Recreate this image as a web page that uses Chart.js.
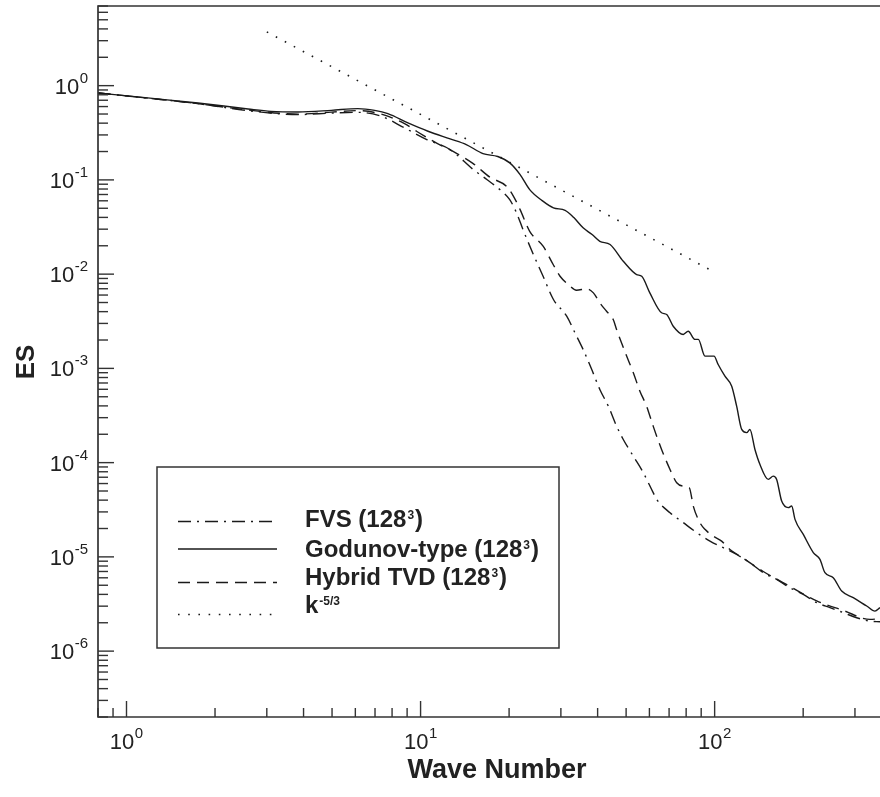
<!DOCTYPE html>
<html>
<head>
<meta charset="utf-8">
<script src="https://cdn.jsdelivr.net/npm/chart.js@4/dist/chart.umd.min.js"></script>
<style>
  html, body { margin:0; padding:0; background:#fff; }
  #wrap { position:relative; width:880px; height:797px; }
</style>
</head>
<body>
<div id="wrap"><canvas id="c"></canvas></div>
<script>
// ---- data (wave number k, spectrum ES) ----
const seriesNames = ["FVS (128", "Godunov-type (128", "Hybrid TVD (128", "k"];

const fvs = [[0.8,0.837],[1.18,0.737],[1.75,0.644],[2.59,0.543],[3.83,0.493],[4.97,0.511],[6.12,0.521],[7.35,0.473],[8.82,0.356],[10.5,0.268],[12.6,0.210],[15.1,0.129],[16.8,0.101],[18.6,0.0789],[20.1,0.0618],[21.2,0.0447],[22.3,0.0297],[24.2,0.0161],[26.1,0.0095],[28.3,0.00538],[31.4,0.00358],[33.5,0.00238],[35.7,0.00159],[38.2,0.000973],[40.7,0.000597],[43.5,0.000397],[46.4,0.000244],[48.9,0.000176],[52.9,0.000117],[57.2,7.82e-5],[61.8,4.80e-5],[63.5,4.07e-5],[70.5,2.94e-5],[78.2,2.31e-5],[86.9,1.81e-5],[96.4,1.47e-5],[107,1.25e-5],[118.8,1.06e-5],[131.8,8.69e-6],[146.3,6.8e-6],[162.5,5.77e-6],[180.4,4.71e-6],[200.2,4.0e-6],[222.3,3.27e-6],[246.7,2.89e-6],[273.8,2.56e-6],[304.1,2.26e-6],[337.5,2.08e-6],[365,2.05e-6]];

const godunov = [[0.8,0.837],[1.18,0.741],[1.75,0.655],[2.59,0.566],[3.10,0.534],[3.83,0.526],[4.97,0.547],[6.12,0.571],[6.98,0.547],[7.74,0.505],[9.06,0.402],[10.6,0.328],[12.6,0.272],[14.3,0.237],[16.3,0.190],[18.3,0.177],[20.1,0.1515],[21.8,0.1138],[23.5,0.0789],[25.9,0.0603],[28.3,0.0505],[31.0,0.0476],[33.2,0.0398],[35.7,0.0310],[38.3,0.0263],[40.7,0.0223],[44.1,0.0206],[48.9,0.0137],[54.3,0.0099],[56.5,0.0095],[60.2,0.00633],[66.0,0.00389],[68.7,0.00373],[72.3,0.0028],[78.2,0.00229],[81.3,0.00248],[85.7,0.00203],[88.0,0.00203],[92.7,0.00135],[99.5,0.00135],[102.8,0.0011],[108.4,0.000827],[114.3,0.000648],[118.8,0.000397],[123.6,0.000225],[128.5,0.000208],[131.8,0.000225],[137.1,0.000138],[142.6,9.57e-5],[152.2,6.64e-5],[158.2,7.19e-5],[162.5,6.64e-5],[169.0,3.91e-5],[178.0,3.33e-5],[182.8,3.46e-5],[187.6,2.50e-5],[200.2,1.73e-5],[216.5,1.11e-5],[228.1,9.39e-6],[237.2,6.79e-6],[253.1,6.01e-6],[270.4,4.34e-6],[296.0,3.69e-6],[328.9,3.01e-6],[350.9,2.66e-6],[365,2.89e-6]];

const hybrid = [[0.8,0.837],[1.18,0.737],[1.75,0.644],[2.59,0.551],[3.83,0.499],[4.97,0.524],[6.12,0.543],[7.35,0.499],[8.82,0.395],[9.69,0.328],[11.3,0.247],[12.9,0.201],[15.1,0.149],[17.2,0.107],[19.6,0.0855],[20.7,0.067],[21.8,0.0484],[23.5,0.0285],[26.1,0.0198],[28.3,0.0125],[29.8,0.0095],[31.8,0.00776],[33.9,0.00675],[36.7,0.00698],[38.7,0.00633],[40.7,0.00496],[42.9,0.00404],[45.2,0.0033],[46.4,0.00259],[50.2,0.00135],[52.9,0.000898],[55.7,0.000573],[58.7,0.000397],[61.8,0.000244],[66.0,0.000138],[70.5,8.47e-5],[74.3,6.12e-5],[78.2,5.64e-5],[82.0,5.42e-5],[84.6,3.46e-5],[89.1,2.31e-5],[92.7,1.96e-5],[98.9,1.66e-5],[105.6,1.47e-5],[112.7,1.2e-5],[121.9,1.02e-5],[146.3,7.0e-6],[180.4,4.86e-6],[222.3,3.41e-6],[273.8,2.7e-6],[337.5,2.17e-6],[365,2.22e-6]];

const kMinus53 = [[3,3.72],[96,0.0112]];

const xRange = [0.8, 365];
const yRange = [2e-7, 7];
const xLabelExps = [0, 1, 2];
const yLabelExps = [0, -1, -2, -3, -4, -5, -6];

const INK = '#1a1a1a';
const FONT = '"Liberation Sans", Arial, Helvetica, sans-serif';
const DASHES = { fvs:[13,6,2,6], god:[], hyb:[12,7], ref:[1.6,8.6] };

const toPts = a => a.map(p => ({x:p[0], y:p[1]}));

function drawPow(ctx, exp, x, y, mode) {
  const base = '10', sup = String(exp);
  ctx.fillStyle = '#222';
  ctx.textBaseline = 'alphabetic';
  ctx.font = '22px ' + FONT;
  const wb = ctx.measureText(base).width;
  ctx.font = '15px ' + FONT;
  const ws = ctx.measureText(sup).width;
  let x0;
  if (mode === 'y') x0 = x - ws - wb - 0.5;
  else x0 = x - (wb + ws + 0.5) / 2;
  ctx.textAlign = 'left';
  ctx.font = '22px ' + FONT;
  ctx.fillText(base, x0, y + 8);
  ctx.font = '15px ' + FONT;
  ctx.fillText(sup, x0 + wb + 0.5, y - 3);
}

const framePlugin = {
  id: 'frame',
  afterDatasetsDraw(chart) {
    const ctx = chart.ctx, a = chart.chartArea;
    const xs = chart.scales.x, ys = chart.scales.y;
    ctx.save();
    // frame
    ctx.strokeStyle = '#333';
    ctx.lineWidth = 1.7;
    ctx.setLineDash([]);
    ctx.beginPath();
    ctx.moveTo(a.right + 2, a.top);
    ctx.lineTo(a.left, a.top);
    ctx.lineTo(a.left, a.bottom);
    ctx.lineTo(a.right + 2, a.bottom);
    ctx.stroke();
    // ticks
    ctx.lineWidth = 1.4;
    for (let e = -8; e <= 3; e++) {
      for (let m = 1; m <= 9; m++) {
        const v = m * Math.pow(10, e);
        if (v >= yRange[0] && v <= yRange[1]) {
          const py = ys.getPixelForValue(v);
          const len = m === 1 ? 16 : 10;
          ctx.beginPath(); ctx.moveTo(a.left, py); ctx.lineTo(a.left + len, py); ctx.stroke();
        }
        if (v >= xRange[0] && v <= xRange[1]) {
          const px = xs.getPixelForValue(v);
          const len = m === 1 ? 16 : 9;
          ctx.beginPath(); ctx.moveTo(px, a.bottom); ctx.lineTo(px, a.bottom - len); ctx.stroke();
        }
      }
    }
    // tick labels
    yLabelExps.forEach(e => drawPow(ctx, e, 88, ys.getPixelForValue(Math.pow(10, e)), 'y'));
    xLabelExps.forEach(e => drawPow(ctx, e, xs.getPixelForValue(Math.pow(10, e)), a.bottom + 24, 'x'));
    // axis titles
    ctx.fillStyle = '#222';
    ctx.font = 'bold 27px ' + FONT;
    ctx.textAlign = 'center';
    ctx.textBaseline = 'alphabetic';
    ctx.fillText('Wave Number', 497, 778);
    ctx.save();
    ctx.translate(34, 362);
    ctx.rotate(-Math.PI / 2);
    ctx.font = 'bold 26px ' + FONT;
    ctx.fillText('ES', 0, 0);
    ctx.restore();
    // legend box
    ctx.fillStyle = '#fff';
    ctx.fillRect(157, 467, 402, 181);
    ctx.strokeStyle = '#333';
    ctx.lineWidth = 1.5;
    ctx.strokeRect(157, 467, 402, 181);
    const rows = [
      {dash:DASHES.fvs, ly:521.5, ty:527, label:seriesNames[0], sup:'3', close:')'},
      {dash:DASHES.god, ly:549, ty:556.5, label:seriesNames[1], sup:'3', close:')'},
      {dash:DASHES.hyb, ly:582.5, ty:584.5, label:seriesNames[2], sup:'3', close:')'},
      {dash:DASHES.ref, ly:614.5, ty:613, label:seriesNames[3], sup:'-5/3', close:''}
    ];
    rows.forEach(r => {
      ctx.strokeStyle = INK;
      ctx.lineWidth = r.dash === DASHES.ref ? 1.6 : 1.4;
      ctx.setLineDash(r.dash);
      ctx.beginPath(); ctx.moveTo(178, r.ly); ctx.lineTo(277, r.ly); ctx.stroke();
      ctx.setLineDash([]);
      ctx.fillStyle = '#222';
      ctx.textAlign = 'left';
      ctx.font = 'bold 24px ' + FONT;
      ctx.fillText(r.label, 305, r.ty);
      let x = 305 + ctx.measureText(r.label).width;
      ctx.font = 'bold 12px ' + FONT;
      ctx.fillText(r.sup, x + 1, r.ty - 8);
      x += ctx.measureText(r.sup).width + 2;
      ctx.font = 'bold 24px ' + FONT;
      if (r.close) ctx.fillText(r.close, x, r.ty);
    });
    ctx.restore();
  }
};

const common = { showLine:true, pointRadius:0, pointHoverRadius:0, borderColor:INK, borderWidth:1.4, cubicInterpolationMode:'monotone', fill:false };

new Chart(document.getElementById('c'), {
  type: 'scatter',
  data: {
    datasets: [
      Object.assign({label:'FVS', data:toPts(fvs), borderDash:DASHES.fvs}, common),
      Object.assign({label:'Godunov-type', data:toPts(godunov), borderDash:DASHES.god}, common),
      Object.assign({label:'Hybrid TVD', data:toPts(hybrid), borderDash:DASHES.hyb}, common),
      Object.assign({label:'k^-5/3', data:toPts(kMinus53), borderDash:DASHES.ref}, common, {borderWidth:1.6, cubicInterpolationMode:'default'})
    ]
  },
  options: {
    responsive: true,
    maintainAspectRatio: false,
    devicePixelRatio: 1,
    animation: false,
    events: [],
    layout: { padding: { left:98, top:6, right:0, bottom:80 } },
    scales: {
      x: { type:'logarithmic', min:xRange[0], max:xRange[1], display:false },
      y: { type:'logarithmic', min:yRange[0], max:yRange[1], display:false }
    },
    plugins: { legend:{display:false}, tooltip:{enabled:false} }
  },
  plugins: [framePlugin]
});
</script>
</body>
</html>
